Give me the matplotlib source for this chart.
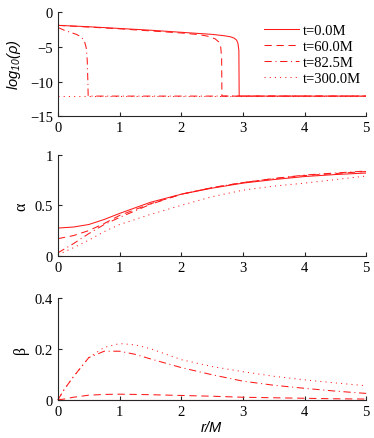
import matplotlib
matplotlib.use("Agg")
import matplotlib.pyplot as plt

plt.rcParams['font.family'] = ['Liberation Serif', 'DejaVu Serif']
plt.rcParams['mathtext.fontset'] = 'custom'
plt.rcParams['mathtext.rm'] = 'Liberation Sans:italic'
plt.rcParams['mathtext.it'] = 'Liberation Sans:italic'

labels = ["t=0.0M", "t=60.0M", "t=82.5M", "t=300.0M"]

# log10(rho)
r_rho0 = [0, 0.5, 1, 1.5, 2, 2.5, 2.7, 2.8, 2.86, 2.9, 2.92, 2.935, 2.94, 5]
rho0 = [-1.9, -2.1, -2.35, -2.6, -2.9, -3.2, -3.4, -3.55, -3.75, -4.05, -4.5, -5.5, -12.1, -12.1]
r_rho60 = [0, 0.5, 1, 1.5, 2, 2.3, 2.45, 2.55, 2.61, 2.64, 2.655, 2.66, 5]
rho60 = [-1.9, -2.15, -2.4, -2.7, -3.0, -3.25, -3.5, -3.85, -4.3, -5.0, -6.5, -12.1, -12.1]
r_rho825 = [0, 0.1, 0.2, 0.3, 0.38, 0.43, 0.46, 0.475, 0.485, 0.49, 5]
rho825 = [-2.2, -2.6, -2.9, -3.2, -3.6, -4.2, -5.2, -7, -10, -12.1, -12.1]
r_rho300 = [0, 5]
rho300 = [-12.1, -12.1]

# lapse alpha
r_a = [0, 0.25, 0.5, 0.75, 1, 1.5, 2, 2.5, 3, 3.5, 4, 4.5, 5]
a0 = [0.275, 0.285, 0.31, 0.36, 0.42, 0.53, 0.61, 0.67, 0.72, 0.755, 0.785, 0.805, 0.82]
a60 = [0.17, 0.2, 0.25, 0.32, 0.40, 0.515, 0.61, 0.675, 0.725, 0.765, 0.795, 0.815, 0.835]
a825 = [0.03, 0.12, 0.22, 0.31, 0.38, 0.51, 0.61, 0.675, 0.725, 0.765, 0.8, 0.82, 0.84]
a300 = [0.01, 0.08, 0.155, 0.24, 0.31, 0.41, 0.50, 0.585, 0.65, 0.69, 0.72, 0.755, 0.79]

# shift beta
r_b = [0, 0.1, 0.25, 0.5, 0.75, 1, 1.25, 1.5, 2, 2.5, 3, 3.5, 4, 4.5, 5]
b0 = [0] * 15
b60 = [0, 0.003, 0.01, 0.018, 0.021, 0.022, 0.021, 0.02, 0.017, 0.014, 0.01, 0.008, 0.006, 0.004, 0.003]
b825 = [0, 0.04, 0.09, 0.165, 0.19, 0.19, 0.178, 0.16, 0.126, 0.098, 0.073, 0.057, 0.045, 0.034, 0.025]
b300 = [0, 0.04, 0.09, 0.165, 0.205, 0.22, 0.215, 0.2, 0.157, 0.13, 0.11, 0.092, 0.078, 0.066, 0.055]

xticks = [0, 1, 2, 3, 4, 5]
yticks_rho = [0, -5, -10, -15]
yticks_a = [0, 0.5, 1]
ytlab_a = ["0", "0.5", "1"]
yticks_b = [0, 0.2, 0.4]
ytlab_b = ["0", "0.2", "0.4"]

styles = ['-', (0, (7, 4.5)), (0, (7, 3.5, 1, 3.5)), (0, (1, 4))]
red = '#ff1a1a'
lw = 0.75
fs = 10.5

fig = plt.figure(figsize=(3.74, 4.39), dpi=100)
ax1 = fig.add_axes([0.155, 0.733, 0.824, 0.237])
ax2 = fig.add_axes([0.155, 0.415, 0.824, 0.230])
ax3 = fig.add_axes([0.155, 0.087, 0.824, 0.233])

for ax in (ax1, ax2, ax3):
    ax.spines['top'].set_visible(False)
    ax.spines['right'].set_visible(False)
    for s in ('left', 'bottom'):
        ax.spines[s].set_linewidth(0.8)
        ax.spines[s].set_color('#262626')
    ax.tick_params(direction='in', length=3, width=0.8, color='#262626',
                   labelsize=fs, pad=3.5)
    ax.set_xlim(0, 5)
    ax.set_xticks(xticks)

rho_series = [(r_rho0, rho0), (r_rho60, rho60), (r_rho825, rho825), (r_rho300, rho300)]
for (rr, vv), ls, lab in zip(rho_series, styles, labels):
    ax1.plot(rr, vv, color=red, lw=lw, linestyle=ls, label=lab)
ax1.set_ylim(-15, 0)
ax1.set_yticks(yticks_rho)
ax1.set_ylabel(r'$log_{10}(\rho)$', fontsize=fs, labelpad=5)
ax1.legend(loc='upper left', bbox_to_anchor=(0.669, 0.885), frameon=False,
           fontsize=fs, handlelength=2.4, handletextpad=0.25,
           labelspacing=0.18, borderpad=0, borderaxespad=0)

for vv, ls in zip([a0, a60, a825, a300], styles):
    ax2.plot(r_a, vv, color=red, lw=lw, linestyle=ls)
ax2.set_ylim(0, 1)
ax2.set_yticks(yticks_a)
ax2.set_yticklabels(ytlab_a)
ax2.set_ylabel('α', fontsize=fs + 1, labelpad=4)

for vv, ls in zip([b0, b60, b825, b300], styles):
    ax3.plot(r_b, vv, color=red, lw=lw, linestyle=ls, clip_on=False)
ax3.set_ylim(0, 0.4)
ax3.set_yticks(yticks_b)
ax3.set_yticklabels(ytlab_b)
ax3.set_ylabel('β', fontsize=fs + 1, labelpad=4)
ax3.set_xlabel(r'$r/M$', fontsize=fs, labelpad=1)

fig.savefig('out.png', dpi=100)
